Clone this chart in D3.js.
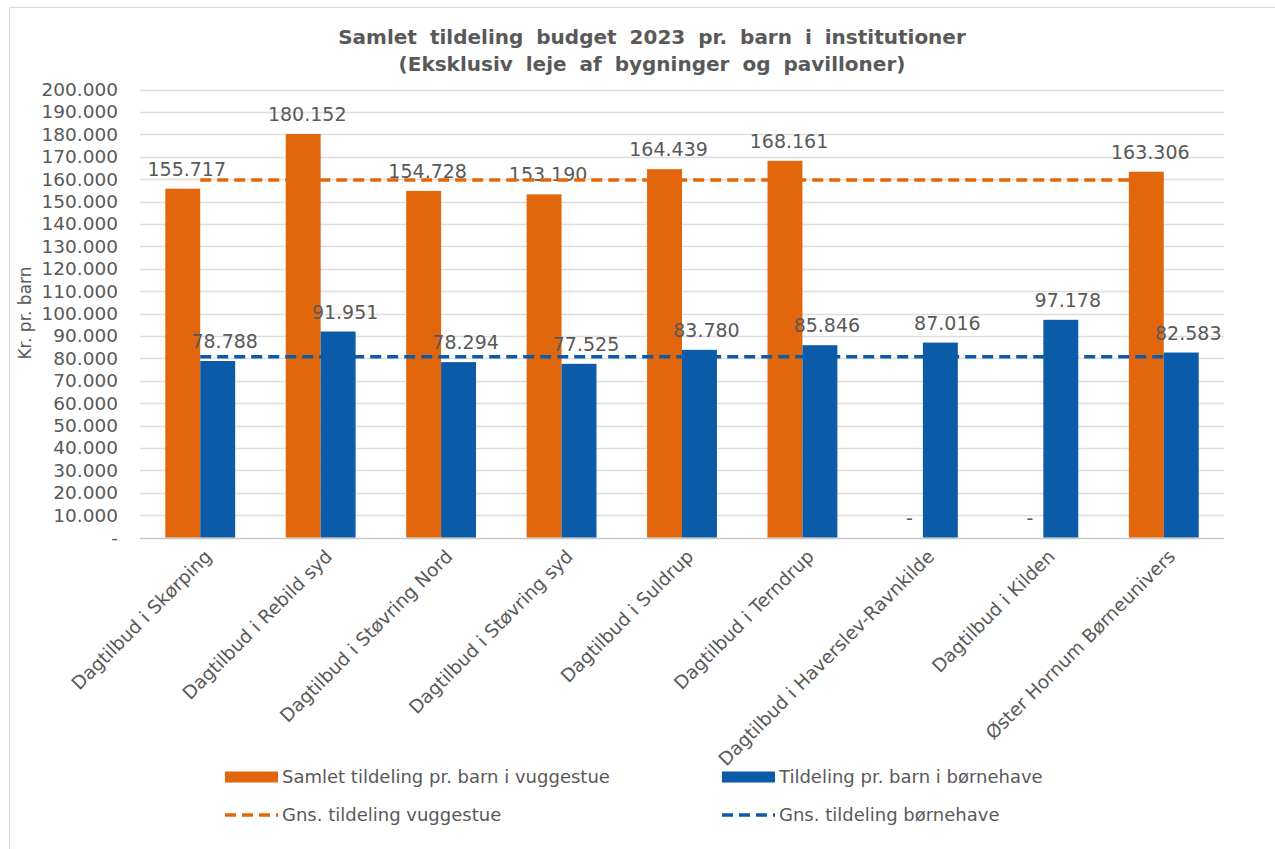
<!DOCTYPE html>
<html>
<head>
<meta charset="utf-8">
<script src="https://cdn.jsdelivr.net/npm/d3@7"></script>
<style>
    body { margin: 0; background: #fff; }
    svg text { font-family: "DejaVu Sans", Verdana, sans-serif; fill: #595959; }
</style>
</head>
<body>
<div id="chart"></div>
<script>
// data
var categories = [
    "Dagtilbud i Skørping",
    "Dagtilbud i Rebild syd",
    "Dagtilbud i Støvring Nord",
    "Dagtilbud i Støvring syd",
    "Dagtilbud i Suldrup",
    "Dagtilbud i Terndrup",
    "Dagtilbud i Haverslev-Ravnkilde",
    "Dagtilbud i Kilden",
    "Øster Hornum Børneunivers"
];
var vuggestue = [155717, 180152, 154728, 153190, 164439, 168161, 0, 0, 163306];
var bornehave = [78788, 91951, 78294, 77525, 83780, 85846, 87016, 97178, 82583];
var gnsVuggestue = [159600, 159600, 159600, 159600, 159600, 159600, 159600, 159600, 159600];
var gnsBornehave = [80700, 80700, 80700, 80700, 80700, 80700, 80700, 80700, 80700];
var yTicks = d3.range(0, 200001, 10000);

var seriesNames = ["Samlet tildeling pr. barn i vuggestue", "Tildeling pr. barn i børnehave"];
var lineNames = ["Gns. tildeling vuggestue", "Gns. tildeling børnehave"];
var orange = "#e2670c", blue = "#0b5ba8";

var width = 1275, height = 849;
var svg = d3.select("#chart").append("svg")
    .attr("width", width)
    .attr("height", height);

// chart frame
svg.append("rect")
    .attr("x", 9.5).attr("y", 7.5)
    .attr("width", 1290).attr("height", 860)
    .attr("fill", "none")
    .attr("stroke", "#d9d9d9");

var x = d3.scaleBand()
    .domain(categories)
    .range([140, 1224])
    .paddingInner(0.42)
    .paddingOuter(0.21);

var x1 = d3.scaleBand()
    .domain([0, 1])
    .range([0, x.bandwidth()]);

var y = d3.scaleLinear()
    .domain([0, 200000])
    .range([537.5, 89.5]);

var fmt = function (v) {
    return v === 0 ? "-" : d3.format(",")(v).replace(/,/g, ".");
};

// grid
svg.append("g").selectAll("line")
    .data(yTicks)
    .enter().append("line")
    .attr("x1", 140).attr("x2", 1224)
    .attr("y1", function (d) { return Math.round(y(d)) + 0.5; })
    .attr("y2", function (d) { return Math.round(y(d)) + 0.5; })
    .attr("stroke", function (d) { return d === 0 ? "#c8c8c8" : "#dedede"; })
    .attr("stroke-width", 1.5);

// y axis labels
var yAxis = svg.append("g")
    .attr("transform", "translate(118,0)")
    .call(d3.axisLeft(y).tickValues(yTicks).tickFormat(fmt).tickSize(0).tickPadding(0));
yAxis.select(".domain").remove();
yAxis.selectAll("text")
    .style("font-size", "18.5px")
    .attr("fill", "#595959");

svg.append("text")
    .attr("transform", "translate(31,313) rotate(-90)")
    .attr("text-anchor", "middle")
    .style("font-size", "17px")
    .text("Kr. pr. barn");

// title
var title = svg.append("text")
    .attr("x", 652)
    .attr("text-anchor", "middle")
    .style("font-size", "20px")
    .style("font-weight", "bold")
    .style("word-spacing", "6px");
title.append("tspan").attr("x", 652).attr("y", 44).text("Samlet tildeling budget 2023 pr. barn i institutioner");
title.append("tspan").attr("x", 652).attr("y", 71).text("(Eksklusiv leje af bygninger og pavilloner)");

// bars
var rows = categories.map(function (c, i) {
    return { cat: c, values: [vuggestue[i], bornehave[i]] };
});

var groups = svg.append("g").selectAll("g")
    .data(rows)
    .enter().append("g")
    .attr("transform", function (d) { return "translate(" + x(d.cat) + ",0)"; });

groups.selectAll("rect")
    .data(function (d) { return d.values.map(function (v, k) { return { k: k, v: v }; }); })
    .enter().append("rect")
    .attr("x", function (d) { return x1(d.k); })
    .attr("width", x1.bandwidth())
    .attr("y", function (d) { return y(d.v); })
    .attr("height", function (d) { return y(0) - y(d.v); })
    .attr("fill", function (d) { return d.k === 0 ? orange : blue; });

// average lines
var line = d3.line()
    .x(function (d, i) { return x(categories[i]) + x.bandwidth() / 2; })
    .y(function (d) { return y(d); });

[[gnsVuggestue, orange], [gnsBornehave, blue]].forEach(function (s) {
    svg.append("path")
        .datum(s[0])
        .attr("d", line)
        .attr("fill", "none")
        .attr("stroke", s[1])
        .attr("stroke-width", 3.5)
        .attr("stroke-dasharray", "11,6");
});

// data labels
groups.selectAll("text.lbl")
    .data(function (d) { return d.values.map(function (v, k) { return { k: k, v: v }; }); })
    .enter().append("text")
    .attr("class", "lbl")
    .attr("x", function (d) { return x1(d.k) + x1.bandwidth() / 2 + (d.k === 0 ? 4 : 7); })
    .attr("y", function (d) { return y(d.v) - 13; })
    .attr("text-anchor", "middle")
    .style("font-size", "19px")
    .text(function (d) { return fmt(d.v); });

// x labels
svg.append("g").selectAll("text")
    .data(categories)
    .enter().append("text")
    .attr("transform", function (d) {
        return "translate(" + (x(d) + x.bandwidth() / 2 + 8) + ",553) rotate(-45)";
    })
    .attr("text-anchor", "end")
    .attr("dy", "0.35em")
    .style("font-size", "18.5px")
    .text(function (d) { return d; });

// legend
var legend = [
    { name: seriesNames[0], color: orange, dash: false, x: 225, y: 777 },
    { name: seriesNames[1], color: blue, dash: false, x: 722, y: 777 },
    { name: lineNames[0], color: orange, dash: true, x: 225, y: 815 },
    { name: lineNames[1], color: blue, dash: true, x: 722, y: 815 }
];
var lg = svg.append("g").selectAll("g")
    .data(legend)
    .enter().append("g")
    .attr("transform", function (d) { return "translate(" + d.x + "," + d.y + ")"; });

lg.each(function (d) {
    var g = d3.select(this);
    if (d.dash) {
        g.append("line")
            .attr("x1", 0).attr("x2", 53)
            .attr("stroke", d.color)
            .attr("stroke-width", 3.5)
            .attr("stroke-dasharray", "11,6");
    } else {
        g.append("rect")
            .attr("x", 0).attr("y", -5.5)
            .attr("width", 53).attr("height", 11)
            .attr("fill", d.color);
    }
});
lg.append("text")
    .attr("x", 57)
    .attr("dy", "0.35em")
    .style("font-size", "18px")
    .text(function (d) { return d.name; });
</script>
</body>
</html>
